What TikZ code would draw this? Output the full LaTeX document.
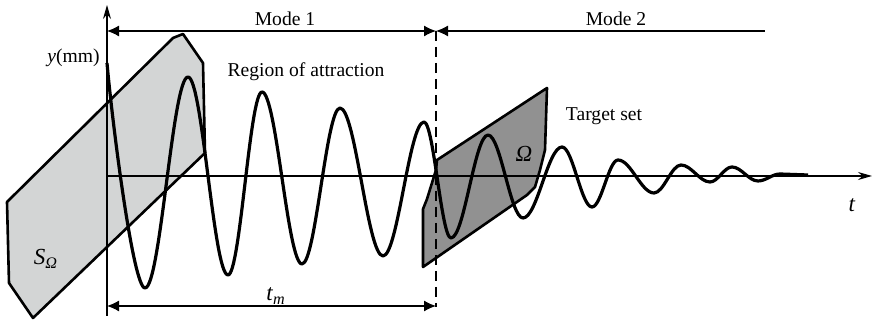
\documentclass[tikz,border=0pt]{standalone}
\usepackage{fontspec}
\setmainfont{Liberation Serif}
\usetikzlibrary{arrows.meta}

\definecolor{regionfill}{RGB}{211,213,213}
\definecolor{targetfill}{RGB}{145,145,145}

\tikzset{
  axisline/.style={line width=0.6pt, -{Stealth[length=7pt,width=4pt]}},
  waveline/.style={line width=1.6pt, line join=round},
  dimline/.style={line width=0.6pt},
  dimtip/.style={{Latex[length=6pt,width=5.5pt]}-{Latex[length=6pt,width=5.5pt]}},
  regionbox/.style={draw=black, line width=1.3pt, line join=round},
  labeltext/.style={font=\fontsize{9.8}{12}\selectfont, inner sep=0pt},
  setlabel/.style={font=\fontsize{11.5}{13}\selectfont, inner sep=0pt}
}

\begin{document}
\begin{tikzpicture}[x=0.5pt, y=-0.5pt]
      % Page frame
      \useasboundingbox (0,0) rectangle (873,324);

      % Key points of the axes and dimension lines
      \coordinate (ybot) at (107,316);
      \coordinate (ytop) at (107,5);
      \coordinate (orig) at (107,176);
      \coordinate (tend) at (872,176);
      \coordinate (mlft) at (107,31);
      \coordinate (swtop) at (436,31);
      \coordinate (swbot) at (436,307);
      \coordinate (mrgt) at (765,31);
      \coordinate (tmlft) at (107,306);
      \coordinate (tmrgt) at (436,306);

      % Region of attraction (light set)
      \draw[regionbox, fill=regionfill]
        (7,202) -- (173,38) -- (183,34) -- (203,63) -- (205,153)
        -- (33,318) -- (9,283) -- cycle;

      % Target set (dark set)
      \draw[regionbox, fill=targetfill]
        (423,267) -- (423,209) -- (427,199) -- (436,170) -- (437,160)
        -- (547,88) -- (545,150) -- (540,170) -- (535,187) -- (527,195)
        -- cycle;

      % Axes
      \draw[axisline] (ybot) -- (ytop);
      \draw[axisline] (orig) -- (tend);

      % Response of the system
      \draw[waveline] (107,63) .. controls (112,120) and (133,288) .. (145,288)
        \foreach \x/\y [remember=\x as \px (initially 145)] in
          {188/77, 228/275, 262/92, 302/264, 340/108, 383/256, 424/122,
           451/238, 488/135, 523/218, 562/147, 592/207, 618/160, 654/193,
           681/165, 710/182, 732/167, 758/181, 780/174}
          { .. controls +({0.36*(\x-\px)},0) and +({-0.36*(\x-\px)},0) .. (\x,\y) }
        -- (808,175);

      % Switching instant
      \draw[dimline, dash pattern=on 5pt off 3pt] (swtop) -- (swbot);

      % Mode intervals
      \draw[dimline, dimtip] (mlft) -- (swtop);
      \draw[dimline, {Latex[length=6pt,width=5.5pt]}-] (swtop) -- (mrgt);
      \draw[dimline, dimtip] (tmlft) -- (tmrgt);

      % Labels
      \node[labeltext] (modeone) at (285,19) {Mode 1};
      \node[labeltext] (modetwo) at (616,19) {Mode 2};
      \node[labeltext, anchor=east] (ylabel) at (100,58) {\textit{y}(mm)};
      \node[setlabel] (tlabel) at (852,205) {\textit{t}};
      \node[labeltext] (attract) at (306,72) {Region of attraction};
      \node[labeltext] (target) at (604,116) {Target set};
      \node[setlabel] (omega) at (524,154) {\textit{Ω}};
      \node[setlabel] (somega) at (46,259) {\textit{S}\textsubscript{\textit{Ω}}};
      \node[setlabel] (tmlabel) at (276,296) {\textit{t}\textsubscript{\textit{m}}};

    \end{tikzpicture}
\end{document}
